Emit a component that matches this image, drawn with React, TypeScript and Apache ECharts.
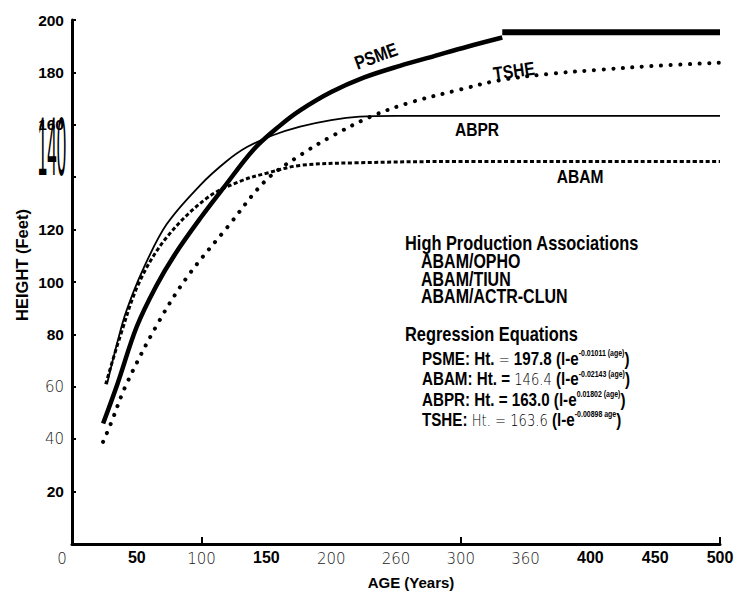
import React, { useEffect, useRef } from 'react';
import * as echarts from 'echarts';

// ---- data ----
const xTickLabels = ['0', '50', '100', '150', '200', '260', '300', '360', '400', '450', '500'];
const xBoldLabels = ['50', '150', '400', '450', '500'];
const xTickMarks = [100, 300, 500];
const yTickValues = [20, 40, 60, 80, 100, 120, 140, 160, 180, 200];
const yLightLabels = ['60', '40'];

const psme = [[24, 46], [35, 61], [50, 83], [65, 98.5], [80, 111], [100, 125], [117, 136], [140, 150.5], [160, 159.5], [176, 165.5], [200, 172.5], [225, 178], [253, 182.5], [280, 186.3], [305, 189.8], [332, 193.3]];
const psmeTop = [[332, 195.3], [500, 195.3]];
const abpr = [[27, 61], [35, 77], [42, 89], [55, 105], [73, 122], [99, 137], [119, 146], [135, 151.5], [155, 156], [176, 159.3], [200, 161.8], [222, 163.1], [250, 163.4], [500, 163.4]];
const abam = [[26, 61], [37, 79], [52, 100], [73, 117], [104, 132], [130, 138.5], [150, 141.5], [176, 144.5], [220, 145.5], [300, 146], [500, 146]];
const tshe = [[24, 39], [30, 46], [42, 61], [66, 84], [89, 102], [120, 121], [150, 139], [178, 149], [200, 155.5], [230, 163], [261, 168.5], [300, 173.5], [330, 177], [370, 179.5], [407, 181], [450, 182.5], [500, 183.7]];

const associations = ['ABAM/OPHO', 'ABAM/TIUN', 'ABAM/ACTR-CLUN'];
const equations = [
  '{b|PSME: Ht.}{l| = }{b|197.8 (l-e}{s|-0.01011 (age)}{b|)}',
  '{b|ABAM: Ht. = }{l|146.4}{b| (l-e}{s|-0.02143 (age)}{b|)}',
  '{b|ABPR: Ht. = 163.0 (l-e}{s|0.01802 (age)}{b|)}',
  '{b|TSHE: }{l|Ht. = 163.6}{b| (l-e}{s|-0.00898 age}{b|)}',
];

const SANS = '"Liberation Sans", Arial, sans-serif';
const LIGHT = '"DejaVu Sans", sans-serif';
const CONDENSE = 0.82;

export default function App() {
  const ref = useRef<HTMLDivElement>(null);
  useEffect(() => {
    const chart = echarts.init(ref.current!, null, { renderer: 'svg' });
    const boldRich = { fontFamily: SANS, fontWeight: 'bold', fontSize: 16, color: '#000', lineHeight: 18 };
    const lightRich = { fontFamily: LIGHT, fontWeight: 200, fontSize: 15, color: '#222', lineHeight: 18 };
    const eqRich = {
      b: { fontFamily: SANS, fontWeight: 'bold', fontSize: 18.5, color: '#000', lineHeight: 20.3 },
      l: { fontFamily: LIGHT, fontWeight: 200, fontSize: 16, color: '#222', lineHeight: 20.3 },
      s: { fontFamily: SANS, fontWeight: 'bold', fontSize: 8.5, color: '#000', lineHeight: 11, verticalAlign: 'top' },
    };
    const txt = (text: string, x: number, y: number, size: number, extra: any = {}) => ({
      type: 'text', x, y, silent: true, rotation: extra.rotation || 0, scaleX: CONDENSE,
      style: {
        text, fill: '#000', font: `bold ${size}px ${SANS}`,
        textAlign: extra.align || 'left', align: extra.align || 'left',
        textVerticalAlign: extra.valign || 'middle', verticalAlign: extra.valign || 'middle',
        lineHeight: extra.lineHeight, rich: extra.rich,
      },
    });
    const lineSeries = (name: string, data: number[][], lineStyle: any) => ({
      type: 'line', name, data, symbol: 'none', showSymbol: false, smooth: 0.35,
      silent: true, lineStyle: { color: '#000', ...lineStyle },
    });
    chart.setOption({
      animation: false,
      backgroundColor: '#fff',
      grid: { left: 72, right: 17, top: 20, bottom: 55, containLabel: false, outerBoundsMode: 'none' },
      xAxis: {
        type: 'value', min: 0, max: 500, interval: 50,
        axisLine: { show: true, lineStyle: { color: '#000', width: 3 } },
        axisTick: { show: true, inside: true, length: 7, lineStyle: { color: '#000', width: 2 }, customValues: xTickMarks },
        splitLine: { show: false },
        axisLabel: {
          margin: 4,
          formatter: (v: number) => {
            const t = xTickLabels[Math.round(v / 50)];
            if (t === '0') return '{z|0}';
            return xBoldLabels.includes(t) ? `{b|${t}}` : `{l|${t}}`;
          },
          rich: { b: boldRich, l: { ...lightRich, padding: [3, 0, 0, 0] }, z: { ...lightRich, padding: [3, 20, 0, 0] } },
        },
        name: 'AGE (Years)', nameLocation: 'middle', nameGap: 31, nameMoveOverlap: false,
        nameTextStyle: { fontFamily: SANS, fontWeight: 'bold', fontSize: 15, color: '#000', padding: [0, 0, 0, 30] },
      },
      yAxis: {
        type: 'value', min: 0, max: 200, interval: 20,
        axisLine: { show: true, lineStyle: { color: '#000', width: 3 } },
        axisTick: { show: true, inside: true, length: 4, lineStyle: { color: '#000', width: 2 }, customValues: yTickValues },
        splitLine: { show: false },
        axisLabel: {
          margin: 8, customValues: yTickValues,
          formatter: (v: number) => {
            const t = String(v);
            if (t === '140') return '';
            return yLightLabels.includes(t) ? `{l|${t}}` : `{b|${t}}`;
          },
          rich: { b: { ...boldRich, fontSize: 15.5 }, l: { ...lightRich, fontSize: 15 } },
        },
        name: 'HEIGHT (Feet)', nameLocation: 'middle', nameGap: 42, nameRotate: 90, nameMoveOverlap: false,
        nameTextStyle: { fontFamily: SANS, fontWeight: 'bold', fontSize: 16.5, color: '#000', padding: [0, 0, 0, 34] },
      },
      series: [
        lineSeries('PSME', psme, { width: 4.5 }),
        lineSeries('PSME plateau', psmeTop, { width: 6 }),
        lineSeries('ABPR', abpr, { width: 1.8 }),
        lineSeries('ABAM', abam, { width: 3, type: [4, 2.5] }),
        lineSeries('TSHE', tshe, { width: 4, type: [0.1, 9.5], cap: 'round' }),
      ],
      graphic: [
        txt('PSME', 376, 56, 19, { align: 'center', rotation: 20 * Math.PI / 180 }),
        txt('TSHE', 514, 71, 19, { align: 'center', rotation: 8 * Math.PI / 180 }),
        txt('ABPR', 477, 129, 19, { align: 'center' }),
        txt('ABAM', 580, 176, 19, { align: 'center' }),
        {
          type: 'text', x: 52, y: 146, scaleX: 0.85, scaleY: 4.2, silent: true,
          style: { text: '140', fill: '#000', font: `20px ${SANS}`, textAlign: 'center', align: 'center', textVerticalAlign: 'middle', verticalAlign: 'middle' },
        },
        txt('High Production Associations', 405, 243, 20),
        txt(associations.join('\n'), 421, 253, 19.5, { valign: 'top', lineHeight: 17.5 }),
        txt('Regression Equations', 405, 334, 20),
        txt(equations.join('\n'), 422, 349, 18.5, { valign: 'top', rich: eqRich, lineHeight: 20.3 }),
      ],
    });
    return () => chart.dispose();
  }, []);
  return <div ref={ref} style={{ position: 'absolute', left: 0, top: 0, width: 737, height: 599 }} />;
}
